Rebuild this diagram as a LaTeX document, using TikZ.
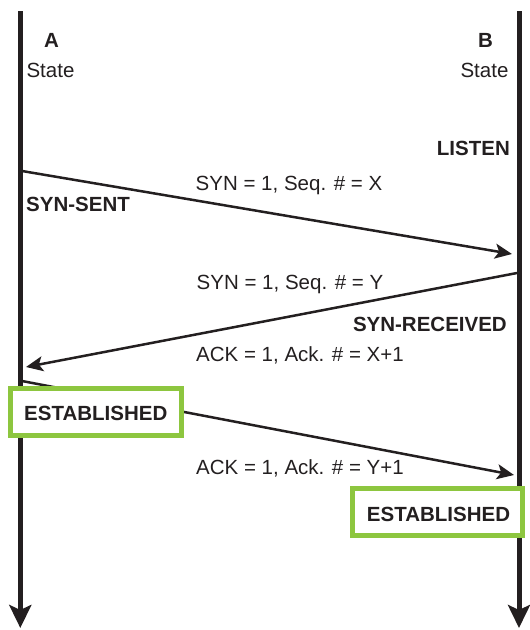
\documentclass[tikz,border=0pt]{standalone}
\usepackage{fontspec}
\setmainfont{Liberation Sans}
\usetikzlibrary{arrows.meta}
\definecolor{estgreen}{RGB}{141,198,63}
\definecolor{ink}{RGB}{35,31,32}
\tikzset{
  lifeline/.style={line width=5pt, draw=ink, -{Stealth[length=23pt,width=22pt,inset=5pt]}},
  msg/.style={line width=2.5pt, draw=ink, -{Stealth[length=17pt,width=15pt,inset=4pt]}},
  msgline/.style={line width=2.5pt, draw=ink},
  lbl/.style={font=\fontsize{20.5}{24}\selectfont, text=ink, inner sep=0pt, anchor=base},
  blbl/.style={font=\fontsize{20.5}{24}\selectfont\bfseries, text=ink, inner sep=0pt, anchor=base},
  estbox/.style={draw=estgreen, line width=5pt, fill=white}
}
\begin{document}
\begin{tikzpicture}[x=1pt,y=-1pt]
\useasboundingbox (0,0) rectangle (530,630);
% lifelines
\coordinate (Atop) at (20.3,11);
\coordinate (Abot) at (20.3,628);
\coordinate (Btop) at (519,11);
\coordinate (Bbot) at (519,628);
\draw[lifeline] (Atop) -- (Abot);
\draw[lifeline] (Btop) -- (Bbot);
% message endpoints
\coordinate (m1s) at (22,171);
\coordinate (m1e) at (512,254);
\coordinate (m2s) at (517,273);
\coordinate (m2e) at (26,367);
\coordinate (m3s) at (22,381);
\coordinate (m3e) at (514,475);
\draw[msg] (m1s) -- (m1e);
\draw[msg] (m2s) -- (m2e);
\draw[msg] (m3s) -- (m3e);
% state boxes
\draw[estbox] (10,388.5) rectangle (181.5,435);
\draw[estbox] (352.5,488.5) rectangle (522.5,535.5);
% headers
\node[blbl] (A) at (51.5,47) {A};
\node[lbl] (Astate) at (50.5,77) {State};
\node[blbl] (B) at (485.5,47) {B};
\node[lbl] (Bstate) at (484.5,77) {State};
% state labels
\node[blbl, anchor=base east] (listen) at (510,155) {LISTEN};
\node[blbl, anchor=base west] (synsent) at (26,211.7) {SYN-SENT};
\node[blbl, anchor=base east] (synrec) at (507,331) {SYN-RECEIVED};
\node[blbl] (estA) at (95.8,420.7) {ESTABLISHED};
\node[blbl] (estB) at (438.5,521.7) {ESTABLISHED};
% message labels
\node[lbl] (l1) at (289,190) {SYN = 1, Seq. \# = X};
\node[lbl] (l2) at (290,289) {SYN = 1, Seq. \# = Y};
\node[lbl] (l3) at (300,361) {ACK = 1, Ack. \# = X+1};
\node[lbl] (l4) at (300,474) {ACK = 1, Ack. \# = Y+1};
\end{tikzpicture}
\end{document}
